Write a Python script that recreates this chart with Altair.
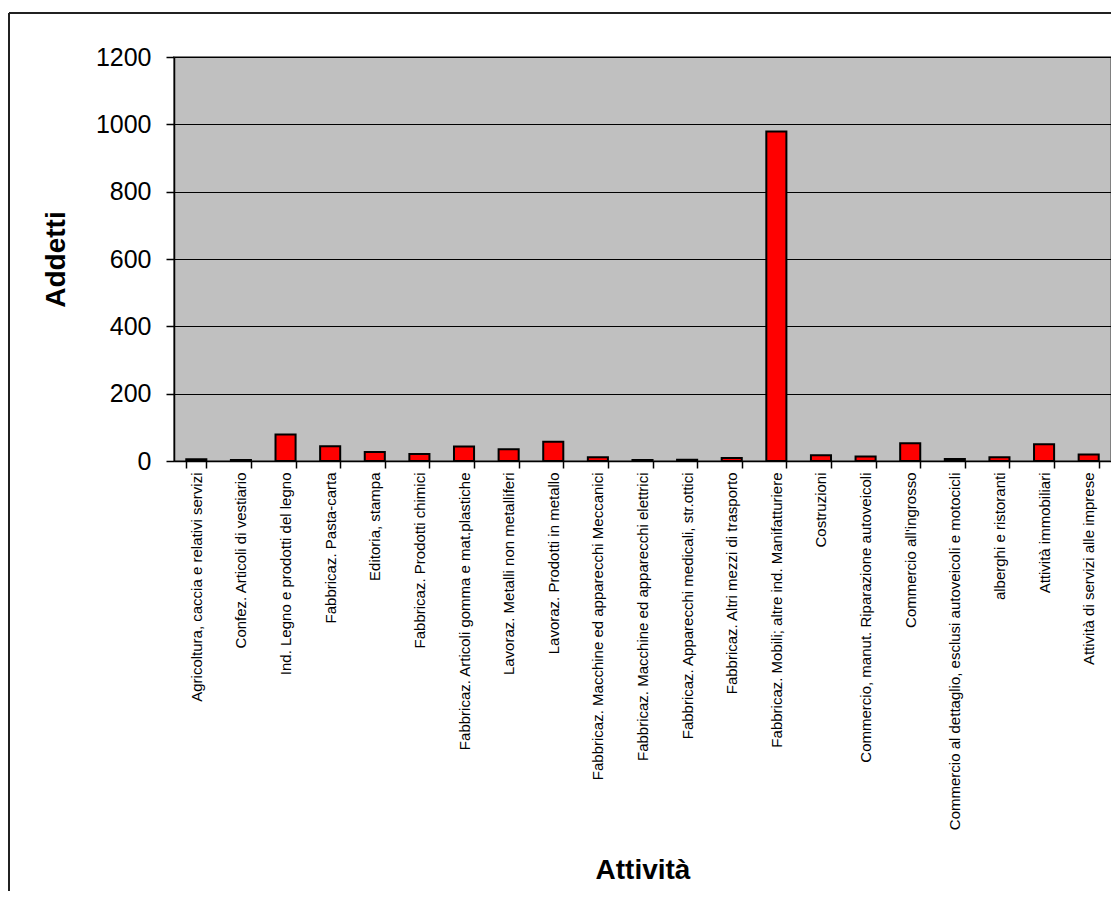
import altair as alt
import pandas as pd

categories = [
    "Agricoltura, caccia e relativi servizi",
    "Confez. Articoli di vestiario",
    "Ind. Legno e prodotti del legno",
    "Fabbricaz. Pasta-carta",
    "Editoria, stampa",
    "Fabbricaz. Prodotti chimici",
    "Fabbricaz. Articoli gomma e mat.plastiche",
    "Lavoraz. Metalli non metalliferi",
    "Lavoraz. Prodotti in metallo",
    "Fabbricaz. Macchine ed apparecchi Meccanici",
    "Fabbricaz. Macchine ed apparecchi elettrici",
    "Fabbricaz. Apparecchi medicali, str.ottici",
    "Fabbricaz. Altri mezzi di trasporto",
    "Fabbricaz. Mobili; altre ind. Manifatturiere",
    "Costruzioni",
    "Commercio, manut. Riparazione autoveicoli",
    "Commercio all'ingrosso",
    "Commercio al dettaglio, esclusi autoveicoli e motocicli",
    "alberghi e ristoranti",
    "Attività immobiliari",
    "Attività di servizi alle imprese",
]
addetti = [5, 3, 79, 44, 27, 21, 43, 35, 57, 11, 3, 4, 9, 979, 17, 13, 53, 6, 11, 50, 19]
y_ticks = [0, 200, 400, 600, 800, 1000, 1200]

df = pd.DataFrame({"Attività": categories, "Addetti": addetti})

FONT = "Liberation Sans"

bars = alt.Chart(df).mark_bar(
    color="#FF0000", stroke="black", strokeWidth=2
).encode(
    x=alt.X(
        "Attività:N",
        sort=None,
        scale=alt.Scale(paddingInner=0.55, paddingOuter=0.275),
        axis=alt.Axis(
            title="Attività",
            titleFont=FONT,
            titleFontSize=28,
            titleFontWeight="bold",
            titleColor="black",
            titleY=417,
            titleBaseline="alphabetic",
            labelAngle=-90,
            labelFont=FONT,
            labelFontSize=15,
            labelColor="black",
            labelLimit=600,
            labelPadding=4,
            tickBand="extent",
            tickSize=7,
            tickColor="black",
            tickWidth=1.5,
            domainColor="black",
            domainWidth=1.5,
            grid=False,
        ),
    ),
    y=alt.Y(
        "Addetti:Q",
        scale=alt.Scale(domain=[0, 1200], nice=False),
        axis=alt.Axis(
            values=y_ticks,
            format="d",
            title="Addetti",
            titleFont=FONT,
            titleFontSize=28,
            titleFontWeight="bold",
            titleColor="black",
            titleAngle=-90,
            titleX=-110,
            titleY=202,
            titleAlign="center",
            titleBaseline="alphabetic",
            labelFont=FONT,
            labelFontSize=25,
            labelColor="black",
            labelPadding=15,
            tickSize=8,
            tickColor="black",
            tickWidth=1.5,
            domainColor="black",
            domainWidth=1.5,
            grid=True,
            gridColor="black",
            gridWidth=1,
        ),
    ),
)

frame_top = alt.Chart(df).mark_rule(color="#222222", strokeWidth=1.5).encode(
    x=alt.value(-165), x2=alt.value(937), y=alt.value(-44)
)
frame_left = alt.Chart(df).mark_rule(color="#222222", strokeWidth=1.5).encode(
    x=alt.value(-165), y=alt.value(-44), y2=alt.value(834)
)

chart = alt.layer(bars, frame_top, frame_left).properties(
    width=937,
    height=404,
    autosize=alt.AutoSizeParams(type="none"),
    padding={"left": 174, "top": 57, "right": 0, "bottom": 430},
    background="white",
).configure_view(
    fill="#C0C0C0", stroke="#808080", strokeWidth=2
)

chart.save("out.html", embed_options={"renderer": "svg", "actions": False})
